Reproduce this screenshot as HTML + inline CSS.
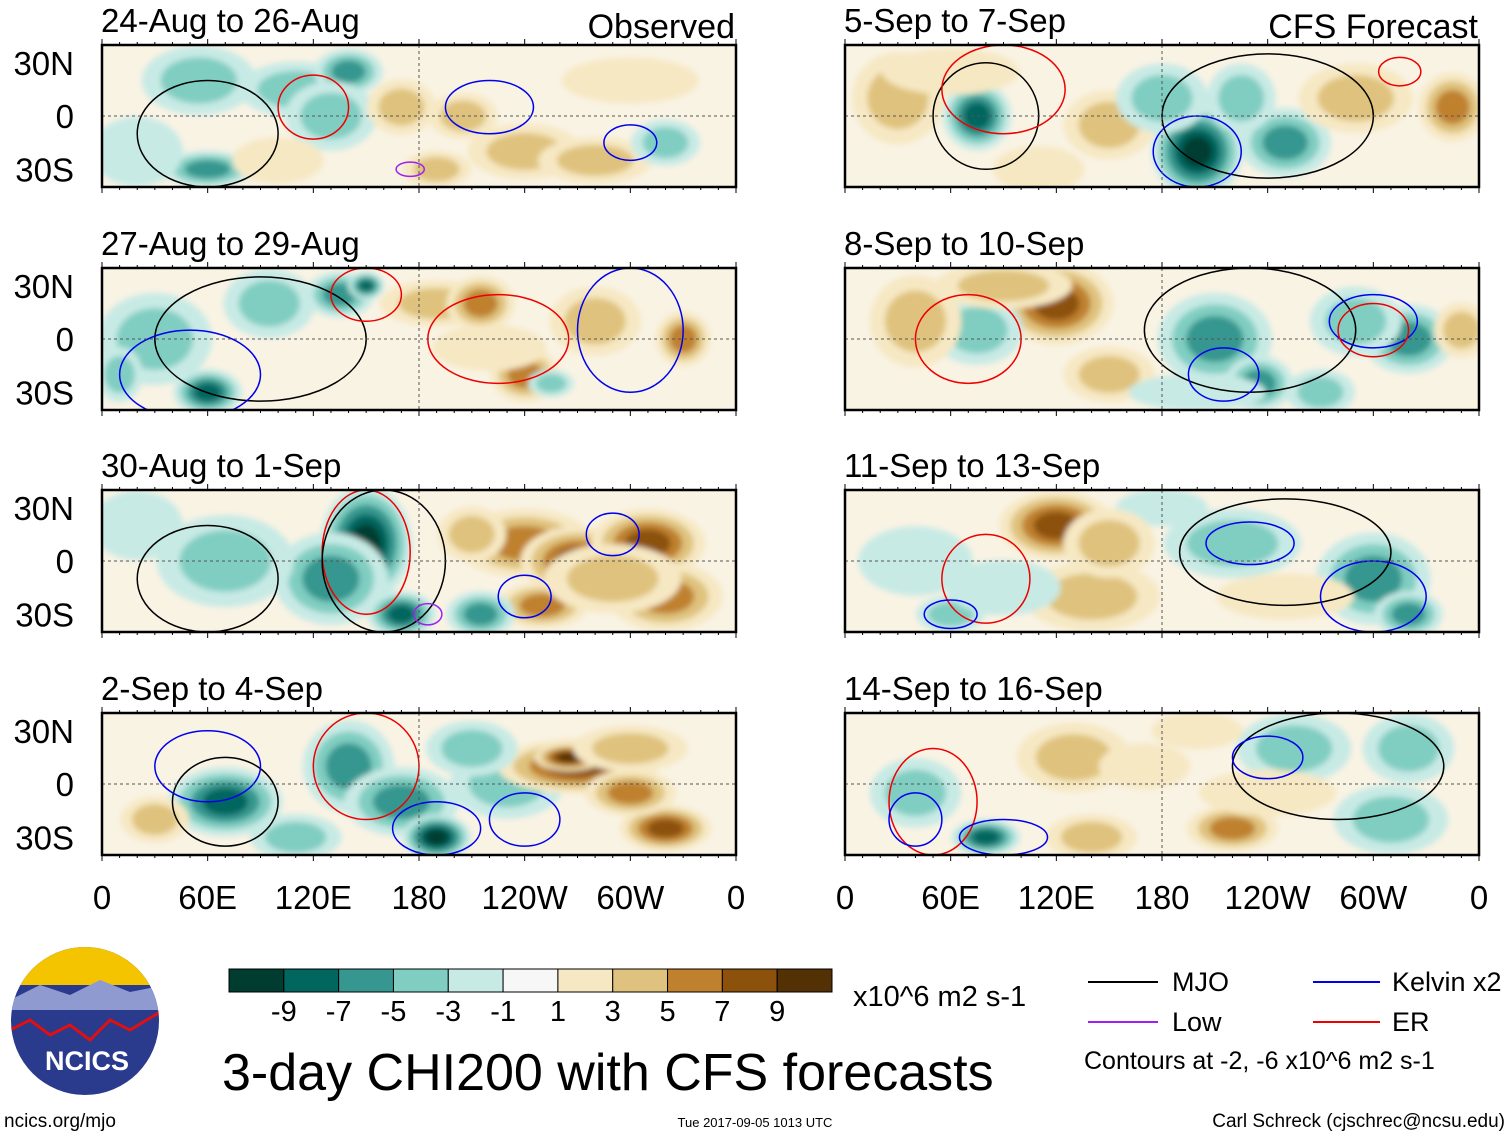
<!DOCTYPE html>
<html><head><meta charset="utf-8">
<style>
body{margin:0;background:#fff;font-family:"Liberation Sans",sans-serif;}
svg{display:block}
</style></head>
<body>
<svg id="chart" width="1510" height="1137" xmlns="http://www.w3.org/2000/svg">
<defs><filter id="bl" x="-20%" y="-20%" width="140%" height="140%"><feGaussianBlur stdDeviation="3"/></filter></defs>
<g id="panels"></g>
<g id="static"></g>
</svg>
<script>
// tick labels / categories
const lonTicks = [0,60,120,180,240,300,360];
const lonLabels = ["0","60E","120E","180","120W","60W","0"];
const latTicks = [30,0,-30];
const latLabels = ["30N","0","30S"];
const cbLevels = [-9,-7,-5,-3,-1,1,3,5,7,9];
const cbColors = ["#003c30","#01665e","#35978f","#80cdc1","#c7eae5","#f7f7f7","#f6e8c3","#dfc27d","#bf812d","#8c510a","#543005"];
const panelTitles = ["24-Aug to 26-Aug","27-Aug to 29-Aug","30-Aug to 1-Sep","2-Sep to 4-Sep","5-Sep to 7-Sep","8-Sep to 10-Sep","11-Sep to 13-Sep","14-Sep to 16-Sep"];
// blobs: [lon, lat, value, lonRadius, latRadius]
const blobs0 = [[55,20,-3,25,15],[110,15,-3,25,12],[140,25,-5,15,10],[60,-30,-5,20,8],[130,0,-3,20,15],[170,5,3,15,12],[205,0,3,15,10],[240,-20,3,25,12],[280,-25,3,25,10],[320,-15,-3,15,10],[20,-20,-1,20,15],[300,20,1,30,10],[100,-25,1,20,10],[190,-30,3,15,8]];
const blobs1 = [[60,-30,-7,15,10],[95,20,-3,20,15],[135,25,-5,15,10],[150,30,-7,8,6],[190,20,3,25,10],[215,20,5,15,12],[240,-20,5,15,12],[280,10,3,20,15],[330,0,5,12,12],[30,0,-3,25,20],[255,-25,-3,10,6],[220,-5,1,25,10],[10,-20,-3,10,12]];
const blobs2 = [[150,10,-9,20,25],[130,-10,-5,25,20],[170,-30,-7,15,10],[70,0,-3,30,20],[240,10,5,30,15],[270,0,7,25,15],[310,10,7,25,15],[250,-25,5,20,10],[320,-20,5,25,15],[215,-30,-5,15,10],[20,20,-1,20,15],[290,-10,3,30,15],[210,15,3,15,12]];
const blobs3 = [[70,-10,-7,25,15],[140,10,-5,20,20],[170,-10,-5,25,15],[190,-30,-9,15,10],[230,0,-3,25,15],[270,10,7,35,12],[265,15,9,15,6],[320,-25,7,20,10],[300,20,3,25,10],[30,-20,3,15,10],[110,-30,-3,20,10],[300,-5,5,20,10],[210,20,-3,20,12]];
const blobs4 = [[75,0,-7,15,15],[200,-20,-9,20,20],[250,-15,-5,20,15],[150,-5,3,20,15],[30,10,3,20,20],[290,10,3,25,15],[345,5,5,15,15],[180,10,-3,20,15],[110,-30,1,20,10],[225,10,-3,15,15],[60,25,1,30,10]];
const blobs5 = [[120,20,7,25,18],[75,5,-3,20,15],[40,10,3,20,20],[210,0,-5,25,20],[235,-25,-5,15,12],[320,0,-5,20,15],[290,10,-3,20,15],[270,-30,-3,15,10],[350,5,3,12,12],[150,-20,3,20,12],[90,30,3,30,10],[200,-30,-1,30,8]];
const blobs6 = [[120,20,7,25,15],[140,-20,3,30,15],[220,10,-3,30,15],[300,-10,-5,25,20],[320,-30,-5,15,10],[40,0,-1,25,15],[60,-30,-3,15,8],[180,30,-1,20,8],[250,-20,1,30,10],[90,-15,-1,25,12],[150,10,3,20,15]];
const blobs7 = [[80,-30,-7,15,8],[40,-5,-3,20,15],[130,15,3,25,15],[140,-30,3,20,10],[220,-25,5,20,10],[255,20,-3,25,15],[320,20,-3,20,15],[310,-20,-3,25,15],[170,10,1,20,10],[200,30,1,20,8],[240,-5,1,30,10]];
const allBlobs=[blobs0,blobs1,blobs2,blobs3,blobs4,blobs5,blobs6,blobs7];
// contour rings: [lon, lat, lonRadius, latRadius, typeIndex]
const contourColors=["#000","#0000ee","#ee0000","#a020f0"];
const rings0=[[60,-10,40,30,0],[120,5,20,18,2],[220,5,25,15,1],[300,-15,15,10,1],[175,-30,8,4,3]];
const rings1=[[90,0,60,35,0],[150,25,20,15,2],[225,0,40,25,2],[50,-20,40,25,1],[300,5,30,35,1]];
const rings2=[[150,5,25,35,2],[160,0,35,40,0],[60,-10,40,30,0],[240,-20,15,12,1],[290,15,15,12,1],[185,-30,8,6,3]];
const rings3=[[150,10,30,30,2],[70,-10,30,25,0],[190,-25,25,15,1],[240,-20,20,15,1],[60,10,30,20,1]];
const rings4=[[80,0,30,30,0],[90,15,35,25,2],[240,0,60,35,0],[200,-20,25,20,1],[315,25,12,8,2]];
const rings5=[[70,0,30,25,2],[230,5,60,35,0],[215,-20,20,15,1],[300,10,25,15,1],[300,5,20,15,2]];
const rings6=[[250,5,60,30,0],[230,10,25,12,1],[80,-10,25,25,2],[300,-20,30,20,1],[60,-30,15,8,1]];
const rings7=[[280,10,60,30,0],[50,-10,25,30,2],[240,15,20,12,1],[90,-30,25,10,1],[40,-20,15,15,1]];
const allRings=[rings0,rings1,rings2,rings3,rings4,rings5,rings6,rings7];

const NS="http://www.w3.org/2000/svg";
function mk(tag,attrs,parent){const e=document.createElementNS(NS,tag);for(const k in attrs)e.setAttribute(k,attrs[k]);parent.appendChild(e);return e;}
const colX=[102,845], pw=634, rowY=[45,268,490,713], ph=142;
function colorFor(v){let i=0;while(i<cbLevels.length&&v>cbLevels[i])i++;return cbColors[i];}
const panels=document.getElementById('panels');
for(let p=0;p<8;p++){
  const c=p<4?0:1, r=p%4, x0=colX[c], y0=rowY[r];
  const xS=lon=>x0+lon/360*pw, yS=lat=>y0+ph/2-lat/40*(ph/2);
  const g=mk('g',{},panels);
  
  
  const cp=mk('clipPath',{id:'cp'+p},g);
  mk('rect',{x:x0,y:y0,width:pw,height:ph},cp);
  mk('rect',{x:x0,y:y0,width:pw,height:ph,fill:'#f9f3e4'},g);
  const fg=mk('g',{'clip-path':'url(#cp'+p+')'},g);
  const bg=mk('g',{filter:'url(#bl)'},fg);
  allBlobs[p].forEach(b=>{
    const [lon,lat,v,rl,rt]=b; const sgn=v<0?-1:1; const n=Math.round((Math.abs(v)+1)/2);
    for(let k=1;k<=n;k++){
      const f=1.3*(1-(k-1)/(n+1));
      const e=mk('ellipse',{cx:xS(lon),cy:yS(lat),rx:rl/360*pw*f,ry:rt/40*(ph/2)*f,fill:colorFor(sgn*(2*k-0.5))},bg);
      
      
    }
  });
  allRings[p].forEach(q=>{
    const e=mk('ellipse',{cx:xS(q[0]),cy:yS(q[1]),rx:q[2]/360*pw,ry:q[3]/40*(ph/2),fill:'none',stroke:contourColors[q[4]],'stroke-width':1.5},fg);
    
    
  });
  mk('line',{x1:x0,x2:x0+pw,y1:yS(0),y2:yS(0),stroke:'#555','stroke-dasharray':'3,3','stroke-width':1},g);
  mk('line',{x1:xS(180),x2:xS(180),y1:y0,y2:y0+ph,stroke:'#555','stroke-dasharray':'3,3','stroke-width':1},g);
  mk('rect',{x:x0,y:y0,width:pw,height:ph,fill:'none',stroke:'#000','stroke-width':2.5},g);
  for(let l=0;l<=360;l+=10){const t=l%60==0?6:3;
    mk('line',{x1:xS(l),x2:xS(l),y1:y0,y2:y0-t,stroke:'#000'},g);mk('line',{x1:xS(l),x2:xS(l),y1:y0+ph,y2:y0+ph+t,stroke:'#000'},g);}
  const tt=mk('text',{x:x0-1,y:y0-13,'font-size':33,fill:'#000'},g);tt.textContent=panelTitles[p];
  
  
  if(c==0){latTicks.forEach((lt,i)=>{const t=mk('text',{x:x0-28,y:yS(lt)+12,'font-size':33,'text-anchor':'end'},g);t.textContent=latLabels[i];
    
    });}
  if(r==3){lonTicks.forEach((l,i)=>{const t=mk('text',{x:xS(l),y:909,'font-size':33,'text-anchor':'middle'},g);t.textContent=lonLabels[i];
    
    });}
}
// colorbar
const cb=document.getElementById('static');
const cbx=229,cbw=603/11;
cbColors.forEach((col,i)=>{const rr=mk('rect',{x:cbx+i*cbw,y:969,width:cbw,height:23,fill:col,stroke:'#000','stroke-width':1},cb);
  
  });
cbLevels.forEach((v,i)=>{const t=mk('text',{x:cbx+(i+1)*cbw,y:1021,'font-size':29,'text-anchor':'middle'},cb);t.textContent=v;
  
  });
</script>
<svg style="position:absolute;left:0;top:0" width="1510" height="1137" xmlns="http://www.w3.org/2000/svg">
<text x="735" y="38" font-size="34" text-anchor="end" font-family="Liberation Sans">Observed</text>
<text x="1478" y="38" font-size="34" text-anchor="end" font-family="Liberation Sans">CFS Forecast</text>
<text x="853" y="1006" font-size="29" font-family="Liberation Sans">x10^6 m2 s-1</text>
<text x="222" y="1090" font-size="52" font-family="Liberation Sans">3-day CHI200 with CFS forecasts</text>
<g font-family="Liberation Sans" font-size="27">
<line x1="1088" x2="1158" y1="982" y2="982" stroke="#000" stroke-width="2"/><text x="1172" y="991">MJO</text>
<line x1="1313" x2="1380" y1="982" y2="982" stroke="#0000ee" stroke-width="2"/><text x="1392" y="991">Kelvin x2</text>
<line x1="1088" x2="1158" y1="1022" y2="1022" stroke="#a020f0" stroke-width="2"/><text x="1172" y="1031">Low</text>
<line x1="1313" x2="1380" y1="1022" y2="1022" stroke="#ee0000" stroke-width="2"/><text x="1392" y="1031">ER</text>
<text x="1084" y="1069" font-size="25">Contours at -2, -6 x10^6 m2 s-1</text>
</g>
<g>
<clipPath id="lc"><circle cx="85" cy="1021" r="74"/></clipPath>
<g clip-path="url(#lc)">
<rect x="0" y="940" width="170" height="160" fill="#2a3a8c"/>
<rect x="0" y="940" width="170" height="45" fill="#f5c400"/>
<path d="M10 1000 L40 985 L70 995 L100 980 L130 992 L165 985 L165 1010 L10 1010Z" fill="#8f9ad0"/>
<path d="M10 1030 L30 1020 L50 1035 L70 1025 L90 1040 L110 1020 L130 1030 L160 1012" stroke="#e01010" stroke-width="3" fill="none"/>
</g>
<text x="87" y="1070" font-size="27" font-weight="bold" fill="#fff" text-anchor="middle" font-family="Liberation Sans">NCICS</text>
</g>
<text x="4" y="1127" font-size="19" font-family="Liberation Sans">ncics.org/mjo</text>
<text x="755" y="1127" font-size="13" text-anchor="middle" font-family="Liberation Sans">Tue 2017-09-05 1013 UTC</text>
<text x="1505" y="1127" font-size="19" text-anchor="end" font-family="Liberation Sans">Carl Schreck (cjschrec@ncsu.edu)</text>
</svg>
</body></html>
